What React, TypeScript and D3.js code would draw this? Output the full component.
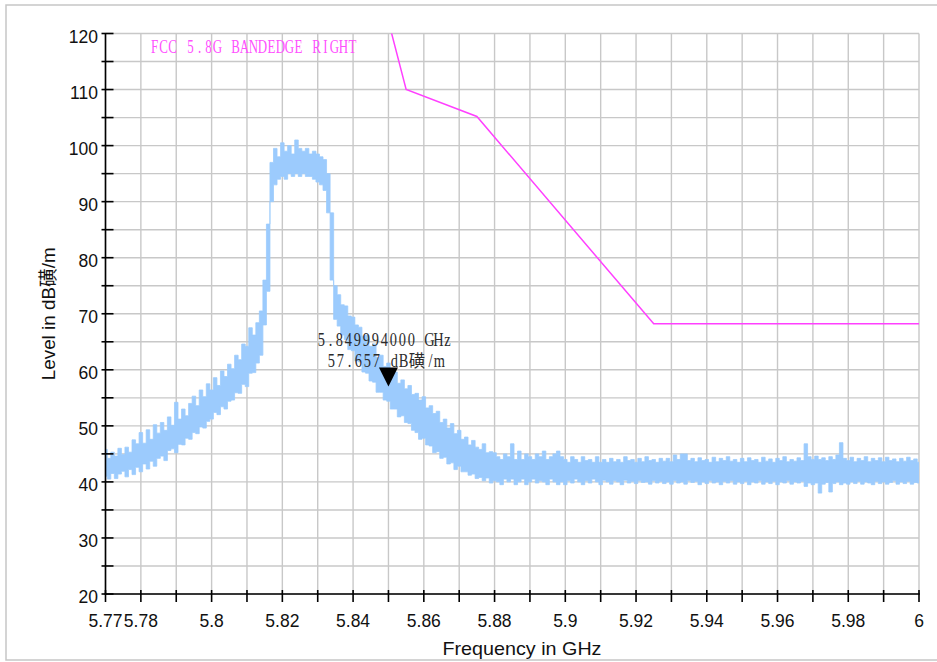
import React from "react";
import * as d3 from "d3";

// Sweep: 5.770 GHz .. 6.000 GHz, one min/max envelope pair per 1 MHz
const sweepStartGHz = 5.77;
const sweepStepGHz = 0.001;

const traceLo = [
  41, 40.5, 41.5, 40.6, 41.4, 41.9, 40.9, 42.2, 41.3, 42.6,
  41.8, 43.2, 42.3, 43.7, 42.8, 44.2, 44.6, 43.8, 45.6, 45.9,
  45.2, 46.7, 46.6, 47.8, 47.6, 48.8, 48.6, 49.8, 49.6, 50.8,
  51.2, 52.4, 52, 53.4, 53, 54.4, 54.6, 55.9, 55.8, 57.4,
  57, 59.4, 59.5, 61.2, 62.6, 68, 74, 90, 93, 94,
  94.5, 94, 95, 94.5, 95, 94.5, 95, 94.5, 94.5, 94,
  93.5, 93, 92, 88, 76, 69, 67.8, 66.2, 65.4, 63.6,
  63.4, 61.6, 61.4, 59.6, 59.4, 58, 57.8, 56, 56, 54.6,
  54.4, 53, 53, 51.6, 51.8, 50.6, 50.4, 49.2, 48.8, 47.6,
  47.8, 46.6, 46.4, 45.2, 45.4, 44.2, 44.4, 43.2, 43.4, 42.2,
  42.8, 41.8, 41.8, 41.2, 41.4, 40.6, 40.8, 40.2, 40.7, 39.8,
  40.2, 40, 39.5, 40.5, 40, 40.5, 39.5, 40, 40.5, 39.5,
  40, 40.5, 39.8, 40.2, 40, 39.5, 40.5, 40, 39.5, 40,
  39.5, 40.2, 39.8, 40.5, 40, 39.5, 40.2, 39.8, 40.5, 40,
  39.5, 40.3, 40, 39.6, 40.2, 40, 39.5, 40.3, 39.8, 40.1,
  39.7, 40.2, 39.9, 40, 39.6, 40.2, 39.8, 40.1, 39.7, 40,
  39.6, 40.2, 39.8, 40, 39.6, 40.2, 39.9, 40.1, 39.5, 40,
  39.7, 40.2, 39.8, 40, 39.5, 40.1, 39.8, 40.2, 39.6, 40,
  39.7, 40.1, 39.5, 40, 39.8, 40.2, 39.6, 40, 39.7, 40.1,
  39.5, 40, 39.8, 40.2, 39.6, 40, 39.8, 40.1, 39.2, 39.8,
  39.5, 39.8, 38, 39.6, 39.9, 38.2, 39.7, 40, 39.5, 39.8,
  39.6, 40, 39.7, 40.1, 39.6, 40, 39.8, 39.5, 40.1, 39.7,
  40, 39.6, 39.9, 40.2, 39.6, 40, 39.7, 40.1, 39.6, 39.9,
  39.8,
];

const traceHi = [
  45.8, 44.2, 45.3, 44.6, 46, 44.9, 46.2, 45.3, 47.5, 46.8,
  48.8, 46.9, 49.3, 47.6, 50.2, 48.7, 50.6, 49.2, 51.6, 50.1,
  54.2, 51.2, 53, 51.8, 54, 55.3, 53.6, 56.4, 55.2, 57.5,
  56.4, 58.6, 57.2, 59.8, 58.8, 61, 60.2, 62.6, 61.8, 64.6,
  64.2, 67.5, 66.2, 68.4, 70.5, 76, 86, 97, 99.5, 98,
  100.5, 99, 100, 98.5, 101, 99.5, 99, 99.5, 98.5, 99,
  98.5, 98, 97.5, 95, 88, 75, 73.4, 71.6, 71.4, 69.6,
  69.4, 68, 67.6, 66, 66.2, 64.2, 64.6, 62.2, 62.6, 60.6,
  61.2, 59.2, 59.6, 57.6, 58.2, 56.6, 57.2, 55.6, 55.8, 54.6,
  55.2, 53.2, 53.6, 52.2, 52.6, 50.6, 51.2, 49.6, 50.4, 48.6,
  49.2, 47.6, 48, 46.6, 47.4, 46.2, 45.8, 46.8, 45.2, 45.4,
  45.2, 44.5, 44, 45, 44.5, 46.8, 44, 45.5, 44, 45,
  44.5, 44, 45, 44.5, 45.5, 44, 44.5, 45, 45.5, 44.5,
  44, 43.5, 44.5, 44, 43.5, 44.5, 43.8, 44, 43.5, 44.5,
  43.5, 44, 43.5, 44.2, 43.6, 44, 43.5, 44.5, 43.8, 44,
  43.5, 44.2, 43.6, 44.5, 43.8, 44, 43.5, 44.2, 43.7, 44.2,
  43.6, 44.8, 44, 45, 45, 43.8, 44.2, 43.6, 44.3, 43.8,
  44, 43.5, 44.4, 43.6, 44.2, 43.8, 44.5, 43.7, 44, 43.5,
  44.2, 43.6, 44.3, 43.8, 44, 43.5, 44.4, 43.7, 44.1, 43.5,
  44.2, 43.8, 44.5, 43.6, 44, 43.7, 44.3, 43.8, 46.8, 44.5,
  44, 44.6, 44, 44.3, 43.8, 44.5, 44, 44.8, 47, 44.2,
  43.8, 44.4, 43.6, 44.2, 43.8, 44.5, 43.6, 44.2, 43.8, 44.3,
  43.6, 44.4, 43.8, 44.1, 43.6, 44.2, 43.7, 44.4, 43.8, 44.1,
  43.5,
];

// FCC 15.407 right band edge limit (dBµV/m)
const limitFreq = [5.85, 5.855, 5.875, 5.925, 6.0];
const limitLevel = [122.2, 110, 105.2, 68.2, 68.2];

// Marker
const markerFreq = 5.849994;
const markerLevel = 57.657;
const markerLine1 = "5.849994000 GHz";
const markerLine2 = "57.657 dB磺/m";

const limitName = "FCC 5.8G BANDEDGE RIGHT";

const xTickValues = [5.77, 5.78, 5.79, 5.8, 5.81, 5.82, 5.83, 5.84, 5.85, 5.86, 5.87, 5.88, 5.89, 5.9, 5.91, 5.92, 5.93, 5.94, 5.95, 5.96, 5.97, 5.98, 5.99, 6.0];
const xLabelValues = [5.77, 5.78, 5.8, 5.82, 5.84, 5.86, 5.88, 5.9, 5.92, 5.94, 5.96, 5.98, 6.0];
const xLabelTexts = ["5.77", "5.78", "5.8", "5.82", "5.84", "5.86", "5.88", "5.9", "5.92", "5.94", "5.96", "5.98", "6"];
const yTickValues = [20, 25, 30, 35, 40, 45, 50, 55, 60, 65, 70, 75, 80, 85, 90, 95, 100, 105, 110, 115, 120];
const yLabelValues = [20, 30, 40, 50, 60, 70, 80, 90, 100, 110, 120];

const xTitle = "Frequency in GHz";
const yTitle = "Level in dB磺/m";

type Pt = { f: number; lo: number; hi: number };

const serif = "'Liberation Serif', 'Times New Roman', 'Noto Sans CJK SC', serif";
const sans = "'Liberation Sans', Arial, 'Noto Sans CJK SC', sans-serif";

// Fixed-pitch text (half-width Latin cells, full-width CJK cells)
function CellText(props: {
  x: number;
  y: number;
  text: string;
  fill: string;
  fontSize: number;
  cell: number;
  squeeze: number;
}) {
  const { x, y, text, fill, fontSize, cell, squeeze } = props;
  const chars = Array.from(text);
  let pos = 0;
  const xs: number[] = [];
  chars.forEach((c) => {
    const w = c.charCodeAt(0) > 0x2e80 ? 2 : 1;
    xs.push((pos + w / 2) * cell);
    pos += w;
  });
  return (
    <g transform={`translate(${x},${y})`}>
      {chars.map((c, i) => {
        const wide = c.charCodeAt(0) > 0x2e80;
        return (
          <text
            key={i}
            transform={`translate(${xs[i]},0) scale(${wide ? 1 : squeeze},1)`}
            textAnchor="middle"
            fontFamily={serif}
            fontSize={wide ? fontSize * 0.92 : fontSize}
            fill={fill}
          >
            {c === " " ? "\u00a0" : c}
          </text>
        );
      })}
    </g>
  );
}

export default function App() {
  const W = 937;
  const H = 662;
  const L = 105.5;
  const R = 919;
  const T = 33.5;
  const B = 594;

  const x = d3.scaleLinear().domain([5.77, 6.0]).range([L, R]);
  const y = d3.scaleLinear().domain([20, 120]).range([B, T]);

  const pts: Pt[] = traceLo.map((lo, i) => ({
    f: sweepStartGHz + i * sweepStepGHz,
    lo,
    hi: traceHi[i],
  }));

  const area = d3
    .area<Pt>()
    .x((d) => x(d.f))
    .y0((d) => y(d.lo))
    .y1((d) => y(d.hi))
    .curve(d3.curveStep);

  const limitLine = d3
    .line<number>()
    .x((_, i) => x(limitFreq[i]))
    .y((d) => y(d));

  const mx = x(markerFreq);
  const tipY = y(markerLevel) + 3.5;

  return (
    <svg
      width={W}
      height={H}
      style={{ position: "absolute", left: 0, top: 0, background: "#fff" }}
    >
      <defs>
        <clipPath id="plotClip">
          <rect x={L} y={T} width={R - L} height={B - T} />
        </clipPath>
      </defs>
      <rect x={6} y={5} width={W + 10} height={655} fill="#fff" stroke="#c6c6c6" strokeWidth={1.5} />

      {/* grid */}
      <g stroke="#c8c8c8" strokeWidth={1.4}>
        {xTickValues.map((v) => (
          <line key={"gx" + v} x1={x(v)} x2={x(v)} y1={T} y2={B} />
        ))}
        {yTickValues.map((v) => (
          <line key={"gy" + v} x1={L} x2={R} y1={y(v)} y2={y(v)} />
        ))}
      </g>

      {/* trace + limit */}
      <g clipPath="url(#plotClip)">
        <path d={area(pts) || ""} fill="#9ccbfd" stroke="#9ccbfd" strokeWidth={0.8} />
        <path d={limitLine(limitLevel) || ""} fill="none" stroke="#ff40ff" strokeWidth={1.5} />
      </g>

      {/* axes */}
      <g stroke="#000" strokeWidth={1.6}>
        <line x1={L} x2={L} y1={T} y2={B + 0.8} />
        <line x1={L - 0.8} x2={R + 0.8} y1={B} y2={B} />
        {yTickValues.map((v) => (
          <line key={"ty" + v} x1={L - 4} x2={L + 8} y1={y(v)} y2={y(v)} />
        ))}
        {xTickValues.map((v) => (
          <line key={"tx" + v} x1={x(v)} x2={x(v)} y1={B - 4} y2={B + 8} />
        ))}
      </g>

      {/* tick labels */}
      <g fontFamily={sans} fontSize={17.5} fill="#111">
        {yLabelValues.map((v) => (
          <text key={"ly" + v} x={98} y={y(v) + 9} textAnchor="end">
            {v}
          </text>
        ))}
        {xLabelValues.map((v, i) => (
          <text key={"lx" + v} x={x(v)} y={626.5} textAnchor="middle">
            {xLabelTexts[i]}
          </text>
        ))}
      </g>

      {/* titles */}
      <text
        x={522}
        y={655}
        textAnchor="middle"
        fontFamily={sans}
        fontSize={19}
        fill="#111"
        textLength={159}
        lengthAdjust="spacingAndGlyphs"
      >
        {xTitle}
      </text>
      <text
        transform={`translate(55, ${(T + B) / 2}) rotate(-90)`}
        textAnchor="middle"
        fontFamily={sans}
        fontSize={19}
        fill="#111"
        textLength={133}
        lengthAdjust="spacingAndGlyphs"
      >
        {yTitle}
      </text>

      {/* limit name */}
      <CellText x={150} y={52.5} text={limitName} fill="#ff50ff" fontSize={18} cell={9} squeeze={0.72} />

      {/* marker */}
      <path
        d={`M${mx - 9.5},${tipY - 19} L${mx + 9.5},${tipY - 19} L${mx},${tipY} Z`}
        fill="#000"
      />
      <CellText x={mx - 71.5} y={tipY - 40} text={markerLine1} fill="#2b2b2b" fontSize={18} cell={9} squeeze={0.8} />
      <CellText x={mx - 61.5} y={tipY - 19.5} text={markerLine2} fill="#2b2b2b" fontSize={18} cell={9} squeeze={0.8} />
    </svg>
  );
}
